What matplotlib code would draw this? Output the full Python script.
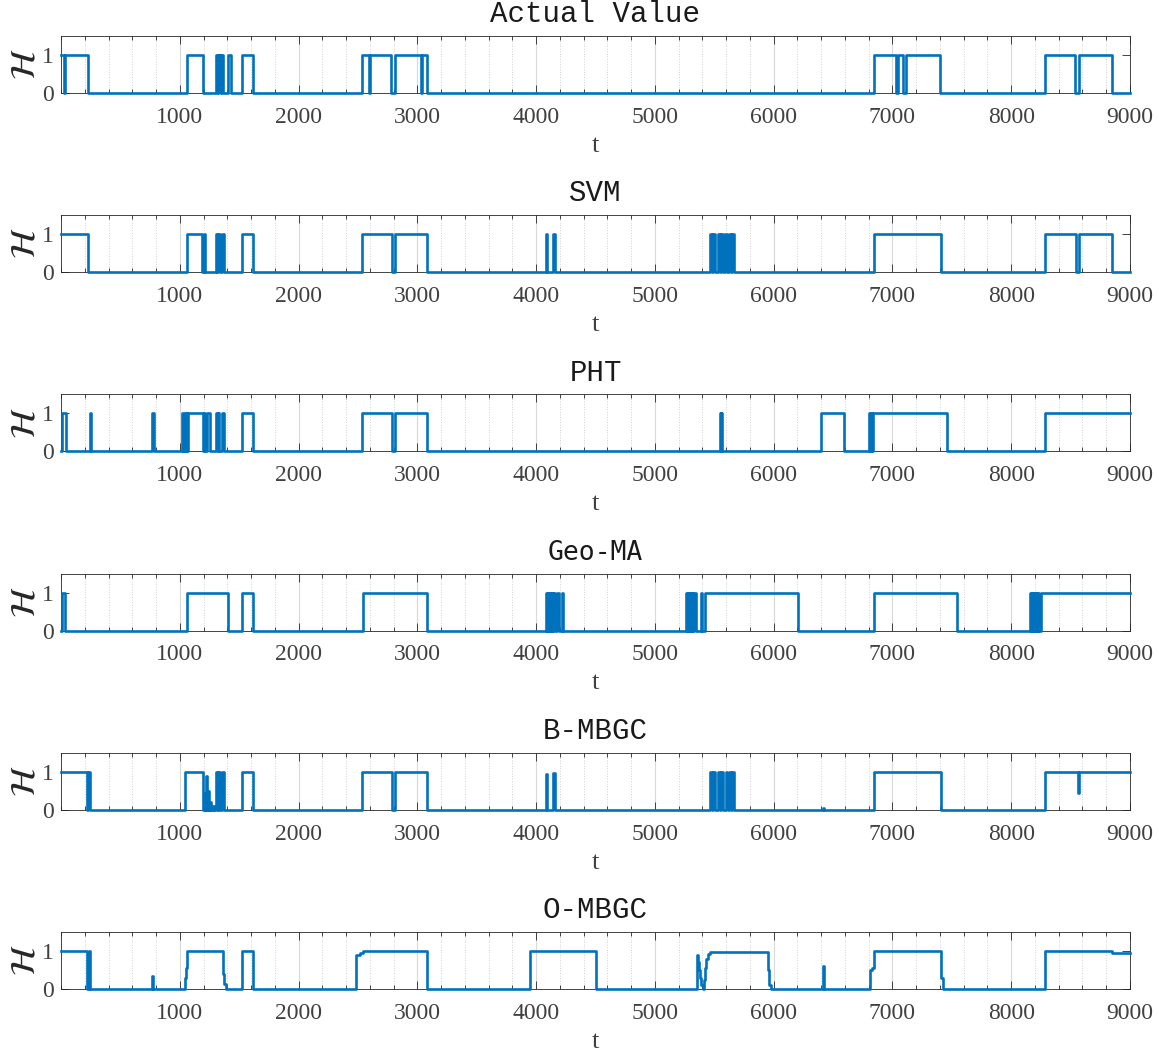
import matplotlib.pyplot as plt
import numpy as np
from matplotlib.ticker import MultipleLocator

plt.rcParams['mathtext.fontset'] = 'stix'

# on-intervals (value 1), plus partial-level segments
actual_on = [(0, 25), (35, 225), (1058, 1194), (1305, 1318), (1325, 1345), (1350, 1362),
             (1410, 1432), (1523, 1614), (2535, 2595), (2605, 2775), (2810, 3030),
             (3040, 3085), (6845, 7030), (7050, 7090), (7110, 7400), (8285, 8540),
             (8570, 8850)]

svm_on = [(0, 225), (1058, 1190), (1200, 1215), (1305, 1315), (1320, 1335), (1355, 1370),
          (1523, 1614), (2535, 2784), (2809, 3084), (4080, 4095), (4145, 4160),
          (5465, 5485), (5490, 5505), (5530, 5550), (5555, 5575), (5590, 5610),
          (5620, 5640), (5645, 5665), (6845, 7408), (8284, 8542), (8574, 8848)]

pht_on = [(5, 38), (240, 250), (770, 780), (1020, 1030), (1040, 1048), (1055, 1065),
          (1072, 1195), (1205, 1215), (1225, 1252), (1305, 1318), (1322, 1332),
          (1355, 1375), (1523, 1614), (2535, 2784), (2809, 3084), (5550, 5556),
          (5560, 5566), (6400, 6590), (6800, 6810), (6818, 6826), (6835, 7463),
          (8284, 9000)]

geo_on = [(5, 35), (1065, 1405), (1523, 1614), (2541, 3084), (4085, 4095), (4100, 4110),
          (4115, 4125), (4130, 4140), (4145, 4155), (4180, 4195), (4215, 4230),
          (5258, 5268), (5275, 5285), (5292, 5302), (5310, 5320), (5330, 5345),
          (5385, 5395), (5425, 6205), (6845, 7545), (8156, 8166), (8172, 8182),
          (8190, 8200), (8208, 8218), (8226, 8236), (8250, 9000)]

bmbgc_on = [(0, 220), (230, 245), (1044, 1194), (1305, 1318), (1322, 1335), (1355, 1370),
            (1523, 1614), (2535, 2784), (2809, 3084), (5465, 5485), (5490, 5505),
            (5530, 5550), (5555, 5575), (5595, 5608), (5620, 5640), (5648, 5665),
            (6845, 7408), (8284, 8560), (8572, 9000)]
bmbgc_part = [(1200, 1210, 0.45), (1222, 1232, 0.9), (1240, 1250, 0.5), (1258, 1266, 0.2),
              (1280, 1290, 0.1), (4080, 4092, 0.95), (4145, 4158, 0.97),
              (5608, 5618, 0.6), (6412, 6425, 0.05), (8560, 8572, 0.45)]

ombgc_on = [(0, 222), (232, 240), (1064, 1365), (1523, 1614), (2545, 3084), (3950, 4505),
            (6845, 7410), (8284, 8848)]
ombgc_part = [(765, 778, 0.35), (1044, 1052, 0.3), (1052, 1064, 0.55), (1365, 1375, 0.4),
              (1375, 1390, 0.12), (2480, 2520, 0.9), (2520, 2545, 0.95),
              (5354, 5362, 0.9), (5362, 5372, 0.7), (5372, 5382, 0.5), (5382, 5392, 0.3),
              (5392, 5402, 0.1), (5410, 5420, 0.25), (5420, 5432, 0.55), (5432, 5445, 0.8),
              (5445, 5465, 0.93), (5465, 5950, 0.98), (5950, 5962, 0.5), (5962, 5975, 0.1),
              (6412, 6420, 0.6), (6810, 6830, 0.5), (6830, 6845, 0.55), (7410, 7425, 0.3),
              (8848, 9000, 0.95)]

titles = ['Actual Value', 'SVM', 'PHT', 'Geo-MA', 'B-MBGC', 'O-MBGC']
series = [(actual_on, []), (svm_on, []), (pht_on, []), (geo_on, []),
          (bmbgc_on, bmbgc_part), (ombgc_on, ombgc_part)]
T_END = 9000


def build(on, part):
    segs = sorted([(s, e, 1.0) for s, e in on] + list(part))
    ts, ys = [], []
    prev = None
    for s, e, v in segs:
        if prev is not None and prev == s:
            ts += [s, e]
            ys += [v, v]
        else:
            if prev is not None:
                ts.append(prev); ys.append(0)
            elif s > 0:
                ts.append(0); ys.append(0)
            ts += [s, s, e]
            ys += [0 if s > 0 else v, v, v]
        prev = e
    if prev < T_END:
        ts += [prev, T_END]
        ys += [0, 0]
    return np.array(ts), np.array(ys)


W, H = 1159, 1057
fig = plt.figure(figsize=(W / 100, H / 100), dpi=100)

for i, (title, (on, part)) in enumerate(zip(titles, series)):
    y0 = 93 + 179.2 * i
    ax = fig.add_axes([61 / W, 1 - y0 / H, 1069 / W, 57 / H])
    t, y = build(on, part)
    ax.plot(t, y, color='#0072BD', lw=1.9, clip_on=False, zorder=3)
    ax.set_xlim(0, 9000)
    ax.set_ylim(0, 1.5)
    ax.set_xticks(range(1000, 9001, 1000))
    ax.xaxis.set_minor_locator(MultipleLocator(200))
    ax.set_yticks([0, 1])
    ax.tick_params(which='both', direction='in', top=True, right=True, colors='#262626',
                   width=0.6)
    ax.tick_params(which='major', length=6, labelsize=17, pad=10)
    ax.tick_params(axis='y', which='major', pad=5)
    ax.tick_params(which='minor', length=3)
    for lab in ax.get_xticklabels() + ax.get_yticklabels():
        lab.set_fontfamily('Liberation Serif')
        lab.set_color('#404040')
    ax.grid(True, which='major', axis='x', color='#d9d9d9', lw=0.8)
    ax.grid(True, which='minor', axis='x', color='#d0d0d0', lw=0.7, ls=':')
    for sp in ax.spines.values():
        sp.set_color('#262626')
        sp.set_linewidth(0.6)
    fam = 'DejaVu Sans Mono' if title == 'Geo-MA' else 'Liberation Mono'
    fs = 19 if title == 'Geo-MA' else 21
    ax.set_title(title, fontsize=fs, family=fam, pad=10, color='#1a1a1a')
    ax.set_xlabel('t', fontsize=19, family='Liberation Serif', color='#404040', labelpad=5)
    ax.set_ylabel(r'$\mathcal{H}$', fontsize=25, color='#262626', labelpad=0)

plt.savefig('out.png', dpi=100)
